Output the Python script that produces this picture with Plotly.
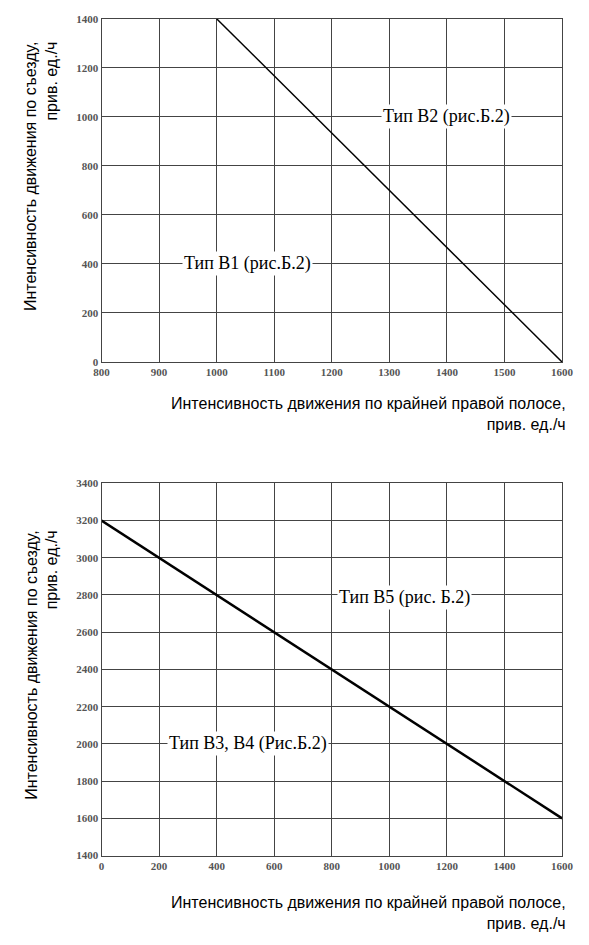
import plotly.graph_objects as go

top_x = [1000, 1600]
top_y = [1400, 0]
bot_x = [0, 1600]
bot_y = [3200, 1600]
top_xticks = list(range(800, 1601, 100))
top_yticks = list(range(0, 1401, 200))
bot_xticks = list(range(0, 1601, 200))
bot_yticks = list(range(1400, 3401, 200))

fig = go.Figure()
fig.add_trace(go.Scatter(x=top_x, y=top_y, mode="lines", line=dict(color="black", width=1.5), xaxis="x", yaxis="y"))
fig.add_trace(go.Scatter(x=bot_x, y=bot_y, mode="lines", line=dict(color="black", width=2.5), xaxis="x2", yaxis="y2"))

tickfont = dict(family="Liberation Serif", size=11, color="#555", weight="bold")
ax = dict(showgrid=True, gridcolor="#444", gridwidth=1, showline=True, linecolor="#444", linewidth=1,
          mirror=True, zeroline=False, ticks="", tickfont=tickfont)
fig.update_layout(
    width=589, height=945, margin=dict(l=0, r=0, t=0, b=0), showlegend=False,
    plot_bgcolor="white", paper_bgcolor="white",
    xaxis=dict(ax, domain=[0.150, 0.958], range=[800, 1600], tickvals=top_xticks, anchor="y"),
    yaxis=dict(ax, domain=[0.627, 0.995], range=[0, 1400], tickvals=top_yticks, anchor="x"),
    xaxis2=dict(ax, domain=[0.150, 0.958], range=[0, 1600], tickvals=bot_xticks, anchor="y2"),
    yaxis2=dict(ax, domain=[0.098, 0.497], range=[1400, 3400], tickvals=bot_yticks, anchor="x2"),
)

lab = dict(family="Liberation Serif", size=18, color="black")
for t, x, y, xr, yr in [("Тип В2 (рис.Б.2)", 1399, 1002, "x", "y"),
                         ("Тип В1 (рис.Б.2)", 1053, 402, "x", "y"),
                         ("Тип В5 (рис. Б.2)", 1053, 2787, "x2", "y2"),
                         ("Тип В3, В4 (Рис.Б.2)", 509, 2002, "x2", "y2")]:
    fig.add_annotation(text=t, x=x, y=y, xref=xr, yref=yr, showarrow=False, font=lab, bgcolor="white")

tf = dict(family="Liberation Sans", size=16, color="black")
for y in [394, 900]:
    fig.add_annotation(text="Интенсивность движения по крайней правой полосе,<br>прив. ед./ч",
                       x=570/589, y=1-(y+11)/945, xref="paper", yref="paper", xanchor="right", yanchor="middle",
                       align="right", showarrow=False, font=tf)
for yc in [165, 660]:
    fig.add_annotation(text="Интенсивность движения по съезду,<br>прив. ед./ч", textangle=-90,
                       x=26/589, y=1-yc/945, xref="paper", yref="paper", xanchor="center", yanchor="middle",
                       align="right", showarrow=False, font=tf)

fig.write_html("out.html")
